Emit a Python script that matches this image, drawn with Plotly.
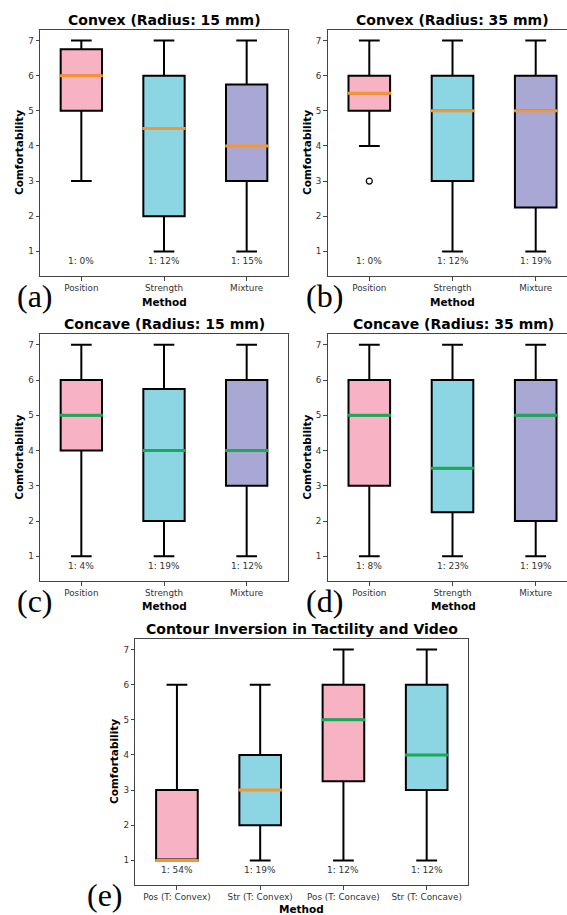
import plotly.graph_objects as go

W, H = 567, 915

methods = ["Position", "Strength", "Mixture"]
methods_e = ["Pos (T: Convex)", "Str (T: Convex)", "Pos (T: Concave)", "Str (T: Concave)"]

# (a) Convex 15 mm
a_low = [3, 1, 1]
a_q1 = [5, 2, 3]
a_med = [6, 4.5, 4]
a_q3 = [6.75, 6, 5.75]
a_high = [7, 7, 7]
a_pct = ["1: 0%", "1: 12%", "1: 15%"]

# (b) Convex 35 mm
b_low = [4, 1, 1]
b_q1 = [5, 3, 2.25]
b_med = [5.5, 5, 5]
b_q3 = [6, 6, 6]
b_high = [7, 7, 7]
b_pct = ["1: 0%", "1: 12%", "1: 19%"]
b_outlier_method = ["Position"]
b_outlier_value = [3]

# (c) Concave 15 mm
c_low = [1, 1, 1]
c_q1 = [4, 2, 3]
c_med = [5, 4, 4]
c_q3 = [6, 5.75, 6]
c_high = [7, 7, 7]
c_pct = ["1: 4%", "1: 19%", "1: 12%"]

# (d) Concave 35 mm
d_low = [1, 1, 1]
d_q1 = [3, 2.25, 2]
d_med = [5, 3.5, 5]
d_q3 = [6, 6, 6]
d_high = [7, 7, 7]
d_pct = ["1: 8%", "1: 23%", "1: 19%"]

# (e) Contour inversion
e_low = [1, 1, 1, 1]
e_q1 = [1, 2, 3.25, 3]
e_med = [1, 3, 5, 4]
e_q3 = [3, 4, 6, 6]
e_high = [6, 6, 7, 7]
e_pct = ["1: 54%", "1: 19%", "1: 12%", "1: 12%"]

PINK, CYAN, LAV = "#F7B2C4", "#8CD5E2", "#A9A7D3"
ORANGE, GREEN = "#F7962F", "#19AA55"
FONT = "DejaVu Sans"
TXT = "#333333"

# pixel layout helpers
def px_x(v):
    return v / W

def px_y(v):
    return 1 - v / H

panels = [
    dict(key="a", title="Convex (Radius: 15 mm)", cats=methods, low=a_low, q1=a_q1, med=a_med, q3=a_q3,
         high=a_high, pct=a_pct, fills=[PINK, CYAN, LAV], medc=[ORANGE] * 3,
         xd=[px_x(40), px_x(288)], yd=[px_y(276), px_y(30)], xr=[0.5, 3.5], clip=False,
         title_xy=(164, 20), mx_y=302, yt_x=19, lab_xy=(35, 296)),
    dict(key="b", title="Convex (Radius: 35 mm)", cats=methods, low=b_low, q1=b_q1, med=b_med, q3=b_q3,
         high=b_high, pct=b_pct, fills=[PINK, CYAN, LAV], medc=[ORANGE] * 3,
         xd=[px_x(327.7), 1.0], yd=[px_y(276), px_y(30)], xr=[0.5, 3.376], clip=True,
         title_xy=(452, 20), mx_y=302, yt_x=307, lab_xy=(324, 296)),
    dict(key="c", title="Concave (Radius: 15 mm)", cats=methods, low=c_low, q1=c_q1, med=c_med, q3=c_q3,
         high=c_high, pct=c_pct, fills=[PINK, CYAN, LAV], medc=[GREEN] * 3,
         xd=[px_x(40), px_x(288)], yd=[px_y(581), px_y(334.3)], xr=[0.5, 3.5], clip=False,
         title_xy=(164, 324), mx_y=606, yt_x=19, lab_xy=(35, 601)),
    dict(key="d", title="Concave (Radius: 35 mm)", cats=methods, low=d_low, q1=d_q1, med=d_med, q3=d_q3,
         high=d_high, pct=d_pct, fills=[PINK, CYAN, LAV], medc=[GREEN] * 3,
         xd=[px_x(327.7), 1.0], yd=[px_y(581), px_y(334.3)], xr=[0.5, 3.376], clip=True,
         title_xy=(453, 324), mx_y=606, yt_x=307, lab_xy=(324, 601)),
    dict(key="e", title="Contour Inversion in Tactility and Video", cats=methods_e, low=e_low, q1=e_q1,
         med=e_med, q3=e_q3, high=e_high, pct=e_pct, fills=[PINK, CYAN, PINK, CYAN],
         medc=[ORANGE, ORANGE, GREEN, GREEN],
         xd=[px_x(135.3), px_x(468.3)], yd=[px_y(885), px_y(639)], xr=[0.5, 4.5], clip=False,
         title_xy=(302, 629), mx_y=909, yt_x=114, lab_xy=(105, 895)),
]

fig = go.Figure()
annotations = []
BOXW = 0.5

for i, p in enumerate(panels):
    n = i + 1
    xa = "x" if n == 1 else f"x{n}"
    ya = "y" if n == 1 else f"y{n}"
    positions = list(range(1, len(p["cats"]) + 1))
    for j, pos in enumerate(positions):
        fig.add_trace(go.Box(
            x=[pos], q1=[p["q1"][j]], median=[p["med"][j]], q3=[p["q3"][j]],
            lowerfence=[p["low"][j]], upperfence=[p["high"][j]],
            width=BOXW, whiskerwidth=0.5, fillcolor=p["fills"][j],
            line=dict(color="black", width=2), boxpoints=False,
            showlegend=False, hoverinfo="skip", xaxis=xa, yaxis=ya,
        ))
        fig.add_trace(go.Scatter(
            x=[pos - BOXW / 2 - 0.01, pos + BOXW / 2 + 0.01], y=[p["med"][j], p["med"][j]],
            mode="lines", line=dict(color=p["medc"][j], width=3),
            showlegend=False, hoverinfo="skip", xaxis=xa, yaxis=ya,
        ))
        annotations.append(dict(
            x=pos, y=0.72, xref=xa, yref=ya, text=p["pct"][j], showarrow=False,
            font=dict(family=FONT, size=9, color=TXT), xanchor="center", yanchor="middle",
        ))
    if p["key"] == "b":
        fig.add_trace(go.Scatter(
            x=[p["cats"].index(m) + 1 for m in b_outlier_method], y=b_outlier_value,
            mode="markers", marker=dict(symbol="circle-open", size=6, color="black",
                                        line=dict(width=1.2, color="black")),
            showlegend=False, hoverinfo="skip", xaxis=xa, yaxis=ya,
        ))

    axis_common = dict(showline=True, linecolor="#444", linewidth=1, ticks="outside",
                       ticklen=3.5, tickwidth=0.8, tickcolor="#444", showgrid=False,
                       zeroline=False, tickfont=dict(family=FONT, size=8.8, color=TXT))
    fig.update_layout(**{
        ("xaxis" if n == 1 else f"xaxis{n}"): dict(
            domain=p["xd"], range=p["xr"], tickmode="array", tickvals=positions,
            ticktext=p["cats"], anchor=ya, mirror=True, **axis_common),
        ("yaxis" if n == 1 else f"yaxis{n}"): dict(
            domain=p["yd"], range=[0.3, 7.3], tickmode="array", tickvals=[1, 2, 3, 4, 5, 6, 7],
            anchor=xa, mirror=not p["clip"], **axis_common),
    })

    tx, ty = p["title_xy"]
    annotations.append(dict(x=px_x(tx), y=px_y(ty), xref="paper", yref="paper", text=p["title"],
                            showarrow=False, xanchor="center", yanchor="middle",
                            font=dict(family=FONT, size=14, color="black", weight="bold")))
    xc = (p["xd"][0] + p["xd"][1]) / 2 if not p["clip"] else px_x(tx)
    annotations.append(dict(x=xc, y=px_y(p["mx_y"]), xref="paper", yref="paper", text="Method",
                            showarrow=False, xanchor="center", yanchor="middle",
                            font=dict(family=FONT, size=10.5, color="black", weight="bold")))
    annotations.append(dict(x=px_x(p["yt_x"]), y=(p["yd"][0] + p["yd"][1]) / 2, xref="paper",
                            yref="paper", text="Comfortability", textangle=-90, showarrow=False,
                            xanchor="center", yanchor="middle",
                            font=dict(family=FONT, size=10.5, color="black", weight="bold")))
    lx, ly = p["lab_xy"]
    annotations.append(dict(x=px_x(lx), y=px_y(ly), xref="paper", yref="paper",
                            text=f"({p['key']})", showarrow=False, xanchor="center",
                            yanchor="middle",
                            font=dict(family="Liberation Serif", size=32, color="black")))

fig.update_layout(
    width=W, height=H, margin=dict(l=0, r=0, t=0, b=0),
    paper_bgcolor="white", plot_bgcolor="white",
    annotations=annotations, showlegend=False,
)

fig.write_html(
    "out.html",
    config={"displayModeBar": False},
    post_script="document.body.style.margin='0';document.body.style.overflow='hidden';",
)
